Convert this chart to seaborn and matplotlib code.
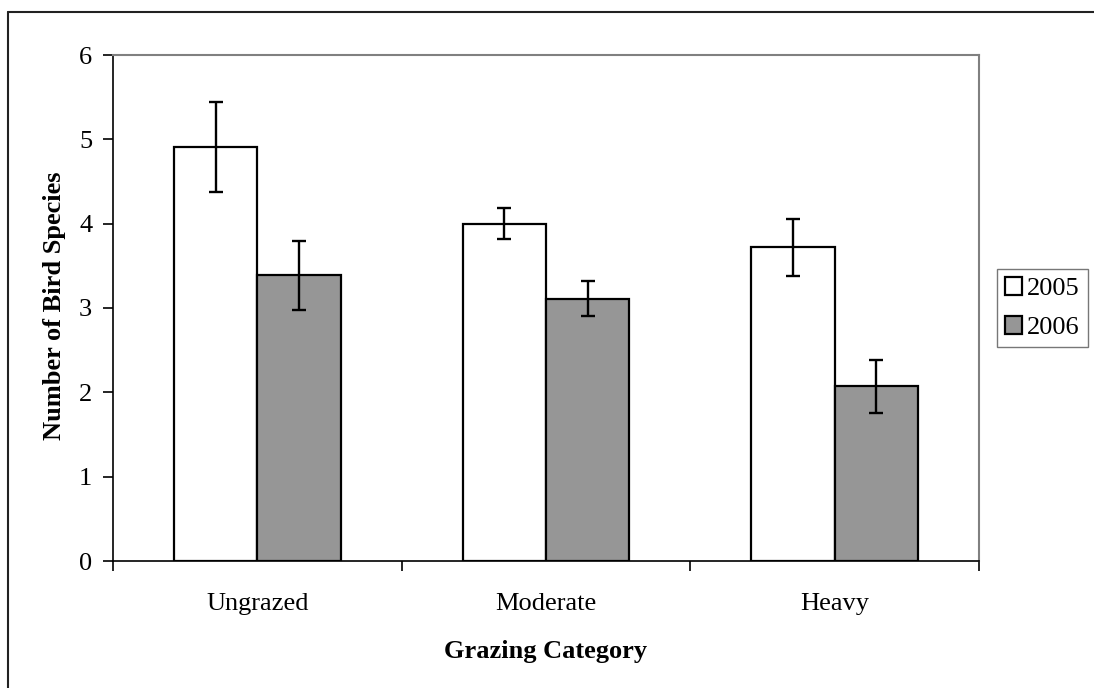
import matplotlib
matplotlib.use("Agg")
import matplotlib.pyplot as plt
from matplotlib.lines import Line2D
import seaborn as sns
import pandas as pd

categories = ["Ungrazed", "Moderate", "Heavy"]
years = ["2005", "2006"]
values_2005 = [4.91, 4.00, 3.72]
values_2006 = [3.39, 3.11, 2.07]
err_2005 = [0.53, 0.18, 0.34]
err_2006 = [0.41, 0.205, 0.31]
y_ticks = [0, 1, 2, 3, 4, 5, 6]

df = pd.DataFrame({
    "category": categories * 2,
    "year": [years[0]] * 3 + [years[1]] * 3,
    "value": values_2005 + values_2006,
})
errs = [err_2005, err_2006]

sns.set_theme(style="white")
plt.rcParams["font.family"] = ["Liberation Serif", "DejaVu Serif"]
for k in ["text.color", "axes.labelcolor", "xtick.color", "ytick.color"]:
    plt.rcParams[k] = "black"

FS = 19
fig = plt.figure(figsize=(10.94, 6.88), dpi=100)
ax = fig.add_axes([113 / 1094, 1 - 561 / 688, (979 - 113) / 1094, (561 - 55) / 688])

sns.barplot(data=df, x="category", y="value", hue="year", order=categories,
            hue_order=years, palette=["white", "#969696"], edgecolor="black",
            linewidth=1.6, width=0.577, gap=0, errorbar=None, legend=False,
            saturation=1, ax=ax)

for cont, e in zip(ax.containers, errs):
    xs = [p.get_x() + p.get_width() / 2 for p in cont.patches]
    ys = [p.get_height() for p in cont.patches]
    ax.errorbar(xs, ys, yerr=e, fmt="none", ecolor="black", elinewidth=1.7,
                capsize=5, capthick=1.7, zorder=5)

ax.set_xlim(-0.5, 2.5)
ax.set_ylim(0, 6)
ax.set_yticks(y_ticks)
ax.set_yticklabels([str(t) for t in y_ticks])
ax.set_xticks([-0.5, 0.5, 1.5, 2.5], minor=False)
ax.set_xticklabels([])
ax.set_xticks([0, 1, 2], minor=True)
ax.set_xticklabels(categories, minor=True)
ax.tick_params(axis="x", which="major", direction="out", length=7, width=1.2, color="black", bottom=True)
ax.tick_params(axis="x", which="minor", length=0, pad=23, labelsize=FS)
ax.tick_params(axis="y", direction="out", length=7, width=1.2, color="black", left=True, labelsize=FS, pad=8)

ax.set_xlabel("Grazing Category", fontsize=FS, fontweight="bold")
ax.set_ylabel("Number of Bird Species", fontsize=FS, fontweight="bold")
ax.xaxis.set_label_coords(0.5, (561 - 640) / 506)
ax.yaxis.set_label_coords((66 - 113) / 866, (561 - 306) / 506)

for s in ["top", "right"]:
    ax.spines[s].set_color("#808080")
    ax.spines[s].set_linewidth(1.5)
for s in ["left", "bottom"]:
    ax.spines[s].set_color("black")
    ax.spines[s].set_linewidth(1.2)

leg = fig.legend(handles=list(ax.containers), labels=years, loc="center left",
                 bbox_to_anchor=(997 / 1094, 1 - 308 / 688), fontsize=FS,
                 frameon=True, fancybox=False, handlelength=0.65, handleheight=0.65,
                 handletextpad=0.2, borderpad=0.3, labelspacing=0.6, borderaxespad=0)
leg.get_frame().set_edgecolor("#555555")
leg.get_frame().set_linewidth(1.0)

# outer chart border (right and bottom edges fall outside the image)
fig.add_artist(Line2D([8 / 1094, 8 / 1094], [-0.1, 1 - 12 / 688], transform=fig.transFigure,
                      color="#222222", linewidth=1.5))
fig.add_artist(Line2D([8 / 1094, 1.1], [1 - 12 / 688, 1 - 12 / 688], transform=fig.transFigure,
                      color="#222222", linewidth=1.5))

fig.savefig("out.png", dpi=100, facecolor="white")
